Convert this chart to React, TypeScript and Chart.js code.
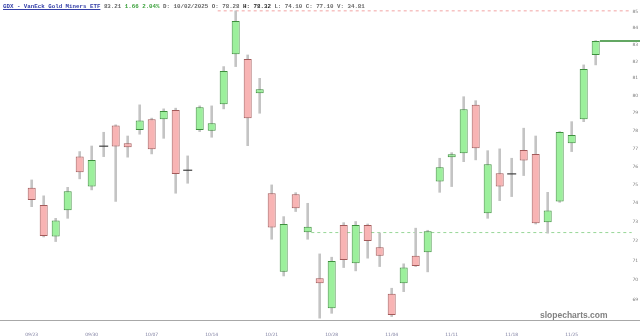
import React, { useEffect, useRef } from "react";
import { Chart, registerables } from "chart.js";

Chart.register(...registerables);

const dates = [
  "09/23", "09/24", "09/25", "09/26", "09/29", "09/30",
  "10/01", "10/02", "10/03", "10/06", "10/07", "10/08", "10/09", "10/10",
  "10/13", "10/14", "10/15", "10/16", "10/17", "10/20", "10/21", "10/22",
  "10/23", "10/24", "10/27", "10/28", "10/29", "10/30", "10/31",
  "11/03", "11/04", "11/05", "11/06", "11/07", "11/10", "11/11", "11/12",
  "11/13", "11/14", "11/17", "11/18", "11/19", "11/20", "11/21", "11/24",
  "11/25", "11/26", "11/28",
];

const opens = [
  74.84, 73.91, 72.24, 73.63, 76.54, 74.9, 77.12, 78.28, 77.28, 78.03,
  78.64, 78.64, 79.17, 75.79, 78.03, 77.99, 79.5, 82.42, 82.14, 80.13,
  74.54, 70.43, 74.49, 72.47, 70.1, 68.59, 72.85, 70.86, 72.85, 71.69,
  69.31, 69.84, 71.24, 71.43, 75.17, 76.51, 76.73, 79.46, 73.47, 75.63,
  75.59, 76.91, 76.69, 72.99, 74.09, 77.28, 78.64, 82.38,
];
const highs = [
  75.26, 74.4, 73.2, 74.86, 76.82, 77.13, 77.9, 78.32, 77.69, 79.46,
  78.7, 79.23, 79.27, 76.58, 79.4, 79.4, 81.69, 85.05, 82.38, 81.0,
  74.99, 73.29, 74.57, 74.0, 71.34, 71.17, 72.97, 73.03, 72.9, 72.42,
  69.59, 70.83, 72.68, 72.57, 76.45, 76.76, 79.93, 79.7, 76.87, 76.97,
  76.45, 78.13, 77.69, 74.59, 77.94, 78.5, 81.79, 83.24,
];
const lows = [
  73.82, 72.22, 71.98, 73.2, 75.32, 74.72, 76.54, 74.1, 76.51, 77.79,
  76.69, 77.56, 74.54, 75.08, 77.94, 77.62, 79.23, 81.69, 77.15, 78.98,
  72.1, 70.21, 73.56, 72.1, 68.1, 68.34, 70.64, 70.47, 71.12, 70.69,
  68.18, 69.42, 70.69, 70.42, 74.59, 74.9, 76.26, 76.36, 73.2, 74.14,
  74.36, 75.5, 72.9, 72.42, 74.05, 76.82, 78.5, 81.79,
];
const closes = [
  74.18, 72.27, 73.08, 74.65, 75.68, 76.36, 77.12, 77.1, 77.06, 78.56,
  76.95, 79.11, 75.59, 75.79, 79.32, 78.41, 81.43, 84.43, 78.69, 80.36,
  72.71, 72.9, 73.74, 72.76, 69.84, 70.98, 71.03, 72.85, 72.01, 71.25,
  68.26, 70.64, 70.72, 72.52, 75.96, 76.67, 79.21, 77.01, 76.12, 74.9,
  75.59, 76.32, 72.94, 73.61, 77.92, 77.75, 81.55, 83.21,
];

const yTicks = [69, 70, 71, 72, 73, 74, 75, 76, 77, 78, 79, 80, 81, 82, 83, 84, 85];
const xTickIdx = [0, 5, 10, 15, 20, 25, 30, 35, 40, 45];

const resistanceLevel = 85.05;
const resistanceFrom = 15.5;
const supportLevel = 72.45;
const supportFrom = 23.3;
const levelTo = 50.0;
const lastPrice = 83.21;

const UP_FILL = "#9cf09c";
const UP_EDGE = "#3d8f3d";
const DN_FILL = "#f8b4b4";
const DN_EDGE = "#a35a5a";

const fullAxisLine = {
  id: "fullAxisLine",
  afterDraw(chart: any) {
    const { ctx, chartArea, width } = chart;
    ctx.save();
    ctx.strokeStyle = "#a8a8a8";
    ctx.lineWidth = 1;
    ctx.beginPath();
    ctx.moveTo(0, Math.round(chartArea.bottom) + 0.5);
    ctx.lineTo(width, Math.round(chartArea.bottom) + 0.5);
    ctx.stroke();
    ctx.restore();
  },
};

// draws the y scale's own ticks at the scale's pixel positions
const yTickLabels = {
  id: "yTickLabels",
  afterDraw(chart: any) {
    const s = chart.scales.y;
    if (!s) return;
    const { ctx } = chart;
    ctx.save();
    ctx.fillStyle = "#7a7a7a";
    ctx.font = "4.5px 'DejaVu Sans', sans-serif";
    ctx.textAlign = "left";
    ctx.textBaseline = "middle";
    s.ticks.forEach((t: any) => {
      const y = s.getPixelForValue(t.value);
      ctx.fillText(String(t.value), s.left + 0.5, y);
    });
    ctx.restore();
  },
};

export default function App() {
  const ref = useRef<HTMLCanvasElement>(null);

  useEffect(() => {
    const canvas = ref.current;
    if (!canvas) return;
    const all = dates.map((_, i) => i);
    const bodyIdx = all.filter((i) => opens[i] !== closes[i]);
    const dojiIdx = all.filter((i) => opens[i] === closes[i]);
    const up = (i: number) => closes[i] >= opens[i];

    const chart = new Chart(canvas, {
      type: "bar",
      data: {
        datasets: [
          {
            type: "line",
            label: "doji",
            data: dojiIdx.map((i) => ({ x: i, y: opens[i] })),
            showLine: false,
            pointStyle: "line",
            pointRadius: 4.5,
            pointBorderColor: "#404040",
            pointBorderWidth: 1.2,
            order: 0,
          } as any,
          {
            type: "bar",
            label: "body",
            data: bodyIdx.map((i) => ({ x: i, y: [opens[i], closes[i]] })),
            backgroundColor: bodyIdx.map((i) => (up(i) ? UP_FILL : DN_FILL)),
            borderColor: bodyIdx.map((i) => (up(i) ? UP_EDGE : DN_EDGE)),
            borderWidth: 1,
            borderSkipped: false,
            grouped: false,
            barPercentage: 0.7,
            categoryPercentage: 1,
            maxBarThickness: 8,
            order: 1,
          } as any,
          {
            type: "bar",
            label: "wick",
            data: all.map((i) => ({ x: i, y: [lows[i], highs[i]] })),
            backgroundColor: "#c4c4c4",
            borderWidth: 0,
            grouped: false,
            barPercentage: 1,
            categoryPercentage: 1,
            maxBarThickness: 2,
            order: 2,
          } as any,
          {
            type: "line",
            label: "resistance",
            data: [
              { x: resistanceFrom, y: resistanceLevel },
              { x: levelTo, y: resistanceLevel },
            ],
            borderColor: "#f2a4a4",
            borderWidth: 1,
            borderDash: [3, 3],
            pointRadius: 0,
            clip: false,
            order: 3,
          } as any,
          {
            type: "line",
            label: "support",
            data: [
              { x: supportFrom, y: supportLevel },
              { x: levelTo, y: supportLevel },
            ],
            borderColor: "#98d698",
            borderWidth: 1,
            borderDash: [3, 3],
            pointRadius: 0,
            clip: false,
            order: 3,
          } as any,
          {
            type: "line",
            label: "last",
            data: [
              { x: dates.length - 1 + 0.35, y: lastPrice },
              { x: 50.8, y: lastPrice },
            ],
            borderColor: "#2f8a2f",
            borderWidth: 1.5,
            pointRadius: 0,
            clip: false,
            order: 0,
          } as any,
        ],
      },
      options: {
        responsive: false,
        maintainAspectRatio: false,
        animation: false,
        devicePixelRatio: 1,
        events: [],
        layout: { padding: 0, autoPadding: false },
        plugins: {
          legend: { display: false },
          tooltip: { enabled: false },
          title: { display: false },
        },
        scales: {
          x: {
            type: "linear",
            min: -2.6417,
            max: 50.025,
            offset: false,
            grid: { display: false },
            border: { display: false },
            afterBuildTicks: (s: any) => {
              s.ticks = xTickIdx.map((v) => ({ value: v }));
            },
            afterFit: (s: any) => {
              s.height = 16;
            },
            ticks: {
              autoSkip: false,
              maxRotation: 0,
              padding: 4.5,
              color: "#7e7ea0",
              font: { size: 4.5, family: "'DejaVu Sans', sans-serif" },
              callback: (v: any) => dates[Number(v)] ?? "",
            },
          },
          y: {
            type: "logarithmic",
            position: "right",
            min: 68.01,
            max: 85.72,
            grid: { display: false },
            border: { display: false },
            afterBuildTicks: (s: any) => {
              s.ticks = yTicks.map((v) => ({ value: v }));
            },
            afterFit: (s: any) => {
              s.width = 8;
            },
            ticks: {
              display: false,
              autoSkip: false,
              callback: (v: any) => String(v),
            },
          },
        },
      } as any,
      plugins: [fullAxisLine, yTickLabels],
    });
    return () => chart.destroy();
  }, []);

  return (
    <div
      style={{
        position: "fixed",
        left: 0,
        top: 0,
        width: 640,
        height: 336,
        background: "#ffffff",
        overflow: "hidden",
      }}
    >
      <canvas
        ref={ref}
        width={640}
        height={336}
        style={{ display: "block", width: 640, height: 336 }}
      />
      <div
        style={{
          position: "absolute",
          left: 3,
          top: 2.5,
          fontFamily: "'Liberation Mono', 'DejaVu Sans Mono', monospace",
          fontSize: "5.8px",
          lineHeight: "7px",
          whiteSpace: "pre",
          color: "#666666",
          fontWeight: 600,
        }}
      >
        <span style={{ color: "#3540a8", textDecoration: "underline" }}>
          GDX - VanEck Gold Miners ETF
        </span>
        <span> 83.21 </span>
        <span style={{ color: "#3aa03a" }}>1.66 2.04%</span>
        <span> D: 10/02/2025 O: 78.28 </span>
        <span style={{ color: "#222222", fontWeight: 800 }}>H: 78.32</span>
        <span> L: 74.10 C: 77.10 V: 34.81</span>
      </div>
      <div
        style={{
          position: "absolute",
          left: 540,
          top: 310,
          fontFamily: "'Liberation Sans', Arial, sans-serif",
          fontSize: "8.5px",
          lineHeight: "10px",
          fontWeight: 700,
          color: "#808080",
          whiteSpace: "pre",
        }}
      >
        slopecharts.com
      </div>
    </div>
  );
}
